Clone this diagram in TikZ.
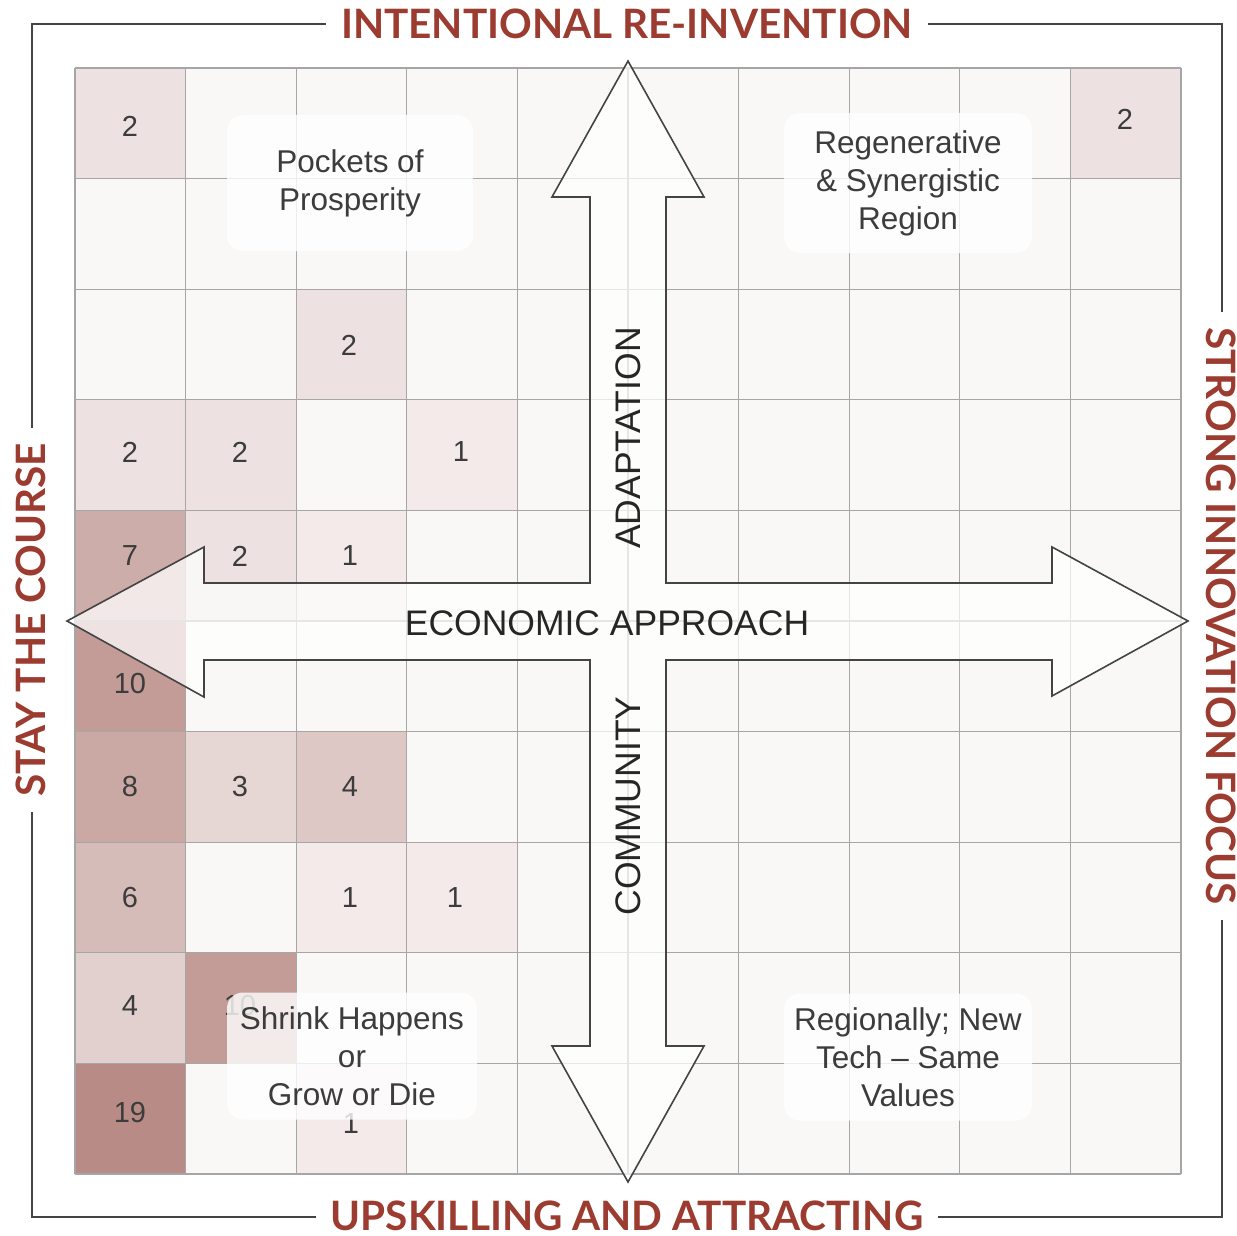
\documentclass[tikz,border=0pt]{standalone}
\usepackage{fontspec}
\setmainfont{Liberation Sans}
\newfontfamily\titlefont{Lato}
\definecolor{c0}{HTML}{FAF8F7}
\definecolor{c1}{HTML}{F3EAE9}
\definecolor{c2}{HTML}{EDE2E1}
\definecolor{c3}{HTML}{E6D6D4}
\definecolor{c4}{HTML}{DDC8C6}
\definecolor{c4b}{HTML}{E2D0CE}
\definecolor{c6}{HTML}{D6BCB9}
\definecolor{c7}{HTML}{CDADA9}
\definecolor{c8}{HTML}{CAA8A4}
\definecolor{c10}{HTML}{C39B97}
\definecolor{c19}{HTML}{B98B86}
\definecolor{gridc}{HTML}{A6A6A6}
\definecolor{numc}{HTML}{3C3C3C}
\definecolor{titlec}{HTML}{9C3B2F}
\definecolor{framec}{HTML}{444444}
\tikzset{
  gridline/.style={draw=gridc, line width=1.2pt},
  num/.style={text=numc, font=\fontsize{29}{34}\selectfont, inner sep=0pt},
  regionbox/.style={fill=white, fill opacity=0.8, text opacity=1, rounded corners=16pt,
    text=numc, align=center, font=\fontsize{31.5}{38}\selectfont, inner sep=0pt},
  axislabel/.style={text=black!85, font=\fontsize{35.5}{40}\selectfont, inner sep=0pt},
  arrowshape/.style={draw=framec, line width=1.6pt, fill=white, fill opacity=0.72, line join=miter},
  frameline/.style={draw=framec, line width=1.8pt},
  sidetitle/.style={text=titlec, fill=white, font=\titlefont\bfseries\fontsize{40.5}{44}\selectfont,
    inner xsep=15pt, inner ysep=2pt}
}
\begin{document}
\begin{tikzpicture}[x=1pt,y=-1pt]
\useasboundingbox (0,0) rectangle (1237,1236);
\fill[white] (0,0) rectangle (1237,1236);
% frame
\draw[frameline] (32,24) rectangle (1222,1217);
% cells
\fill[c0] (75,68) rectangle (1181,1174);
\foreach \r/\c/\col in {0/0/c2, 0/9/c2, 2/2/c2, 3/0/c2, 3/1/c2, 3/3/c1, 4/0/c7, 4/1/c2, 4/2/c1,
  5/0/c10, 6/0/c8, 6/1/c3, 6/2/c4, 7/0/c6, 7/2/c1, 7/3/c1, 8/0/c4b, 8/1/c10, 9/0/c19, 9/2/c1}
  \fill[\col] ({75+\c*110.6},{68+\r*110.6}) rectangle ++(110.6,110.6);
\foreach \i in {0,...,10} {
  \draw[gridline] ({75+\i*110.6},68) -- ({75+\i*110.6},1174);
  \draw[gridline] (75,{68+\i*110.6}) -- (1181,{68+\i*110.6});
}
% numbers
\node[num] (n00) at (130,126) {2};
\node[num] (n09) at (1125,119) {2};
\node[num] (n22) at (349,345) {2};
\node[num] (n30) at (130,452) {2};
\node[num] (n31) at (240,452) {2};
\node[num] (n33) at (461,452) {1};
\node[num] (n40) at (130,556) {7};
\node[num] (n41) at (240,556) {2};
\node[num] (n42) at (350,556) {1};
\node[num] (n50) at (130,684) {10};
\node[num] (n60) at (130,787) {8};
\node[num] (n61) at (240,787) {3};
\node[num] (n62) at (350,787) {4};
\node[num] (n70) at (130,898) {6};
\node[num] (n72) at (350,898) {1};
\node[num] (n73) at (455,898) {1};
\node[num] (n80) at (130,1006) {4};
\node[num] (n81) at (240,1006) {10};
\node[num] (n90) at (130,1113) {19};
\node[num] (n92) at (351,1124) {1};
% region boxes
\node[regionbox, minimum width=246pt, minimum height=136pt] (pockets) at (350,183) {Pockets of\\Prosperity};
\node[regionbox, minimum width=248pt, minimum height=140pt] (regen) at (908,183) {Regenerative\\\& Synergistic\\Region};
\node[regionbox, minimum width=250pt, minimum height=127pt] (shrink) at (352,1056) {Shrink Happens\\or\\Grow or Die};
\node[regionbox, minimum width=248pt, minimum height=127pt] (regional) at (908,1057) {Regionally; New\\Tech -- Same\\Values};
% cross arrow
\draw[arrowshape] (628,61) -- (704,197) -- (666,197) -- (666,583) -- (1052,583) -- (1052,547)
  -- (1188,621) -- (1052,696) -- (1052,660) -- (666,660) -- (666,1046) -- (704,1046)
  -- (628,1182) -- (552,1046) -- (590,1046) -- (590,660) -- (204,660) -- (204,697)
  -- (67,621) -- (204,547) -- (204,583) -- (590,583) -- (590,197) -- (552,197) -- cycle;
\node[axislabel, rotate=90] (adapt) at (628,438) {ADAPTATION};
\node[axislabel, rotate=90] (comm) at (628,806) {COMMUNITY};
\node[axislabel] (econ) at (607,623) {ECONOMIC APPROACH};
% side titles
\node[sidetitle] (top) at (627,24) {INTENTIONAL RE-INVENTION};
\node[sidetitle] (bottom) at (627,1216) {UPSKILLING AND ATTRACTING};
\node[sidetitle, rotate=90] (left) at (31,620) {STAY THE COURSE};
\node[sidetitle, rotate=-90] (right) at (1221,616) {STRONG INNOVATION FOCUS};
\end{tikzpicture}
\end{document}
